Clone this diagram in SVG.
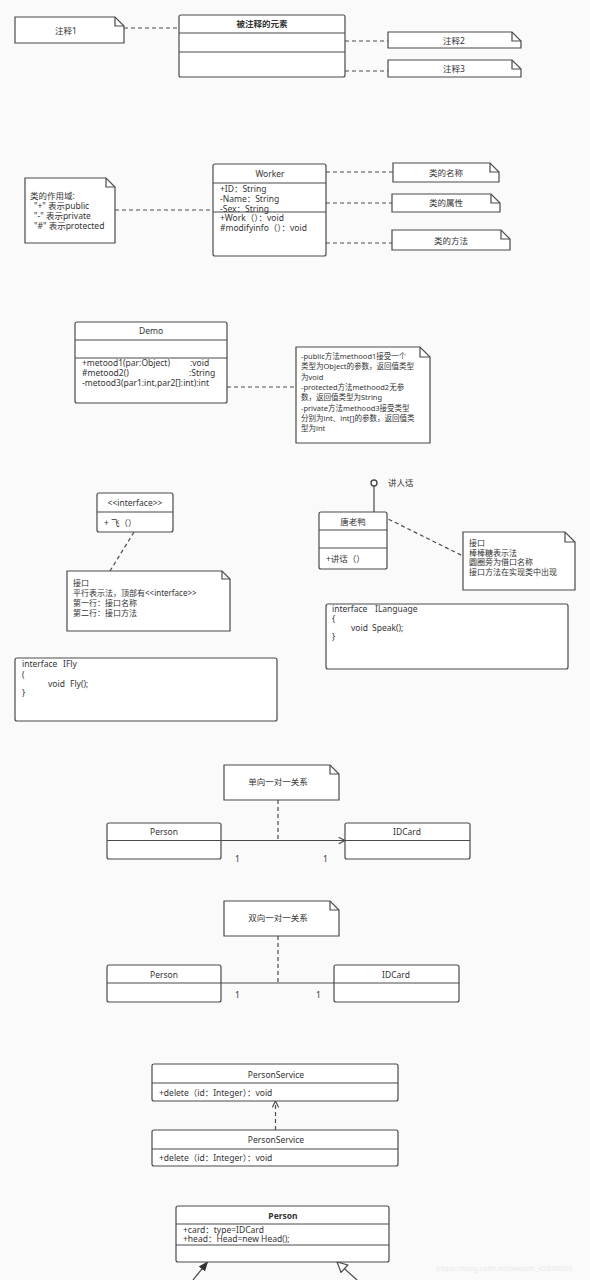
<svg xmlns="http://www.w3.org/2000/svg" width="590" height="1280" viewBox="0 0 590 1280">
<defs>
<style>
.bg{fill:#fafafa}
.box{fill:#fff;stroke:#4a4a4a;stroke-width:1.2}
.note{fill:#fff;stroke:#4a4a4a;stroke-width:1.2;stroke-linejoin:miter}
.fold{fill:none;stroke:#4a4a4a;stroke-width:1.2}
.ln{stroke:#4a4a4a;stroke-width:1.2;fill:none}
.dash{stroke:#4a4a4a;stroke-width:1.2;stroke-dasharray:4 3;fill:none}
text{font-family:"Noto Sans","Noto Sans CJK SC",sans-serif;font-size:8.5px;fill:#333}
.c{text-anchor:middle}
.b{font-weight:bold}
.s8{font-size:8px}
.s7{font-size:7.5px}
.wm{fill:#e9e9e9;font-size:7.5px}
</style>
<marker id="open" viewBox="0 0 10 10" refX="9" refY="5" markerWidth="8" markerHeight="8" markerUnits="userSpaceOnUse" orient="auto">
<path d="M1,1 L9,5 L1,9" fill="none" stroke="#4a4a4a" stroke-width="1.4"/>
</marker>
<marker id="filled" viewBox="0 0 10 10" refX="9" refY="5" markerWidth="10" markerHeight="10" markerUnits="userSpaceOnUse" orient="auto">
<path d="M0,1 L10,5 L0,9 Z" fill="#333" stroke="none"/>
</marker>
<marker id="hollow" viewBox="0 0 12 12" refX="11" refY="6" markerWidth="12" markerHeight="12" markerUnits="userSpaceOnUse" orient="auto">
<path d="M1,1 L11,6 L1,11 Z" fill="#fff" stroke="#4a4a4a" stroke-width="1.2"/>
</marker>
</defs>
<rect class="bg" x="0" y="0" width="590" height="1280"/>

<g id="connectors">
<line class="dash" x1="124" y1="28" x2="179" y2="28"/>
<line class="dash" x1="345" y1="41" x2="388" y2="41"/>
<line class="dash" x1="345" y1="71" x2="388" y2="71"/>
<line class="dash" x1="115" y1="210" x2="213" y2="210"/>
<line class="dash" x1="326" y1="172" x2="393" y2="172"/>
<line class="dash" x1="326" y1="203" x2="392" y2="203"/>
<line class="dash" x1="326" y1="243" x2="392" y2="243"/>
<line class="dash" x1="227" y1="387" x2="295" y2="387"/>
<line class="dash" x1="134" y1="532" x2="110" y2="571"/>
<line class="ln" x1="374" y1="486" x2="374" y2="512"/>
<line class="dash" x1="376" y1="513" x2="463" y2="556"/>
<line class="dash" x1="278" y1="800" x2="278" y2="840"/>
<line class="ln" x1="221" y1="840.5" x2="345" y2="840.5" marker-end="url(#open)"/>
<line class="dash" x1="278" y1="936" x2="278" y2="983"/>
<line class="ln" x1="221" y1="983" x2="334" y2="983"/>
<line class="dash" x1="275.5" y1="1130" x2="275.5" y2="1101" marker-end="url(#open)"/>
<line class="ln" x1="193" y1="1280" x2="207.5" y2="1262" marker-end="url(#filled)"/>
<line class="ln" x1="357" y1="1280" x2="337" y2="1262" marker-end="url(#hollow)"/>
</g>

<g id="note1">
<path class="note" d="M15,17 H115 L124,26 V43 H15 Z"/>
<path class="fold" d="M115,17 V26 H124"/>
<text class="c" x="66" y="34">注释1</text>
</g>
<g id="annotated">
<rect class="box" x="179" y="15" width="166" height="62" rx="2"/>
<line class="ln" x1="179" y1="33" x2="345" y2="33"/>
<line class="ln" x1="179" y1="52" x2="345" y2="52"/>
<text class="c b" x="262" y="27">被注释的元素</text>
</g>
<g id="note2">
<path class="note" d="M388,32 H512 L521,41 V48 H388 Z"/>
<path class="fold" d="M512,32 V41 H521"/>
<text class="c" x="454" y="44">注释2</text>
</g>
<g id="note3">
<path class="note" d="M388,60 H512 L521,69 V77 H388 Z"/>
<path class="fold" d="M512,60 V69 H521"/>
<text class="c" x="454" y="72">注释3</text>
</g>

<g id="scope-note">
<path class="note" d="M25,178 H106 L115,187 V243 H25 Z"/>
<path class="fold" d="M106,178 V187 H115"/>
<text x="30" y="199">类的作用域:</text>
<text x="34" y="209">"+" 表示public</text>
<text x="34" y="219">"-" 表示private</text>
<text x="34" y="229">"#" 表示protected</text>
</g>
<g id="worker">
<rect class="box" x="213" y="164" width="113" height="92" rx="2"/>
<line class="ln" x1="213" y1="183" x2="326" y2="183"/>
<line class="ln" x1="213" y1="212" x2="326" y2="212"/>
<text class="c" x="270" y="177">Worker</text>
<text x="220" y="192">+ID：String</text>
<text x="220" y="202">-Name：String</text>
<text x="220" y="212">-Sex：String</text>
<text x="220" y="221">+Work（）：void</text>
<text x="220" y="231">#modifyinfo（）：void</text>
</g>
<g id="name-note">
<path class="note" d="M393,163 H490 L499,172 V182 H393 Z"/>
<path class="fold" d="M490,163 V172 H499"/>
<text class="c" x="446" y="176">类的名称</text>
</g>
<g id="attr-note">
<path class="note" d="M392,194 H491 L500,203 V212 H392 Z"/>
<path class="fold" d="M491,194 V203 H500"/>
<text class="c" x="446" y="206">类的属性</text>
</g>
<g id="method-note">
<path class="note" d="M392,230 H501 L510,239 V250 H392 Z"/>
<path class="fold" d="M501,230 V239 H510"/>
<text class="c" x="451" y="244">类的方法</text>
</g>

<g id="demo">
<rect class="box" x="75" y="322" width="152" height="81" rx="2"/>
<line class="ln" x1="75" y1="340" x2="227" y2="340"/>
<line class="ln" x1="75" y1="358" x2="227" y2="358"/>
<text class="c" x="151" y="334">Demo</text>
<text x="82" y="366">+metood1(par:Object)</text>
<text x="190" y="366">:void</text>
<text x="82" y="376">#metood2()</text>
<text x="189" y="376">:String</text>
<text x="82" y="386">-metood3(par1:int,par2[]:int):int</text>
</g>
<g id="demo-note">
<path class="note" d="M296,347 H420 L430,357 V443 H296 Z"/>
<path class="fold" d="M420,347 V357 H430"/>
<text class="s7" x="301" y="359">-public方法methood1接受一个</text>
<text class="s7" x="301" y="369.3">类型为Object的参数，返回值类型</text>
<text class="s7" x="301" y="379.6">为void</text>
<text class="s7" x="301" y="389.9">-protected方法methood2无参</text>
<text class="s7" x="301" y="400.2">数，返回值类型为String</text>
<text class="s7" x="301" y="410.5">-private方法methood3接受类型</text>
<text class="s7" x="301" y="420.8">分别为int、int[]的参数，返回值类</text>
<text class="s7" x="301" y="431.1">型为int</text>
</g>

<g id="interface-fly">
<rect class="box" x="97" y="493" width="76" height="39" rx="2"/>
<line class="ln" x1="97" y1="512" x2="173" y2="512"/>
<text class="c" x="135" y="506">&lt;&lt;interface&gt;&gt;</text>
<text x="104" y="526">+ 飞（）</text>
</g>
<g id="interface-note">
<path class="note" d="M67,571 H222 L230,579 V631 H67 Z"/>
<path class="fold" d="M222,571 V579 H230"/>
<text class="s8" x="73" y="586">接口</text>
<text class="s8" x="73" y="596">平行表示法，顶部有&lt;&lt;interface&gt;&gt;</text>
<text class="s8" x="73" y="606">第一行：接口名称</text>
<text class="s8" x="73" y="616">第二行：接口方法</text>
</g>
<g id="ifly-code">
<rect class="box" x="15" y="658" width="262" height="63" rx="2"/>
<text x="22" y="667">interface</text>
<text x="63" y="667">IFly</text>
<text x="22" y="678">(</text>
<text x="48" y="687">void</text>
<text x="70" y="687">Fly();</text>
<text x="22" y="696">}</text>
</g>

<g id="lollipop">
<circle cx="374" cy="483" r="3" fill="#fff" stroke="#4a4a4a" stroke-width="1.4"/>
<text x="388" y="486">讲人话</text>
</g>
<g id="donald">
<rect class="box" x="319" y="512" width="68" height="57" rx="2"/>
<line class="ln" x1="319" y1="530" x2="387" y2="530"/>
<line class="ln" x1="319" y1="548" x2="387" y2="548"/>
<text class="c" x="353" y="525">唐老鸭</text>
<text x="326" y="562">+讲话（）</text>
</g>
<g id="lollipop-note">
<path class="note" d="M463,532 H565 L575,542 V590 H463 Z"/>
<path class="fold" d="M565,532 V542 H575"/>
<text class="s8" x="469" y="546">接口</text>
<text class="s8" x="469" y="555.5">棒棒糖表示法</text>
<text class="s8" x="469" y="565">圆圈旁为借口名称</text>
<text class="s8" x="469" y="574.5">接口方法在实现类中出现</text>
</g>
<g id="ilanguage-code">
<rect class="box" x="326" y="604" width="242" height="65" rx="2"/>
<text x="332" y="612">interface</text>
<text x="375" y="612">ILanguage</text>
<text x="332" y="622">{</text>
<text x="351" y="631">void</text>
<text x="372" y="631">Speak();</text>
<text x="332" y="640">}</text>
</g>

<g id="uni-note">
<path class="note" d="M224,765 H330 L339,774 V800 H224 Z"/>
<path class="fold" d="M330,765 V774 H339"/>
<text class="c" x="278" y="785">单向一对一关系</text>
</g>
<g id="person1">
<rect class="box" x="107" y="823" width="114" height="36" rx="2"/>
<line class="ln" x1="107" y1="840.5" x2="221" y2="840.5"/>
<text class="c" x="164" y="835">Person</text>
</g>
<g id="idcard1">
<rect class="box" x="345" y="823" width="125" height="36" rx="2"/>
<line class="ln" x1="345" y1="840.5" x2="470" y2="840.5"/>
<text class="c" x="407" y="835">IDCard</text>
</g>
<g id="mult1">
<text x="235" y="862">1</text>
<text x="323" y="862">1</text>
</g>

<g id="bi-note">
<path class="note" d="M224,901 H330 L339,910 V936 H224 Z"/>
<path class="fold" d="M330,901 V910 H339"/>
<text class="c" x="278" y="921">双向一对一关系</text>
</g>
<g id="person2">
<rect class="box" x="107" y="965" width="114" height="37" rx="2"/>
<line class="ln" x1="107" y1="983" x2="221" y2="983"/>
<text class="c" x="164" y="978">Person</text>
</g>
<g id="idcard2">
<rect class="box" x="334" y="965" width="125" height="37" rx="2"/>
<line class="ln" x1="334" y1="983" x2="459" y2="983"/>
<text class="c" x="396" y="978">IDCard</text>
</g>
<g id="mult2">
<text x="235" y="998">1</text>
<text x="316" y="998">1</text>
</g>

<g id="personservice1">
<rect class="box" x="152" y="1064" width="246" height="37" rx="2"/>
<line class="ln" x1="152" y1="1083" x2="398" y2="1083"/>
<text class="c" x="276" y="1078">PersonService</text>
<text x="159" y="1096">+delete（id：Integer）：void</text>
</g>
<g id="personservice2">
<rect class="box" x="152" y="1130" width="246" height="36" rx="2"/>
<line class="ln" x1="152" y1="1149" x2="398" y2="1149"/>
<text class="c" x="276" y="1143">PersonService</text>
<text x="159" y="1161">+delete（id：Integer）：void</text>
</g>

<g id="person3">
<rect class="box" x="176" y="1206" width="213" height="56" rx="2"/>
<line class="ln" x1="176" y1="1224" x2="389" y2="1224"/>
<line class="ln" x1="176" y1="1245" x2="389" y2="1245"/>
<text class="c b" x="283" y="1219">Person</text>
<text x="183" y="1233">+card：type=IDCard</text>
<text x="183" y="1242">+head：Head=new Head();</text>
</g>
<text class="wm" x="436" y="1271">https://blog.csdn.net/weixin_45890920</text>
</svg>
